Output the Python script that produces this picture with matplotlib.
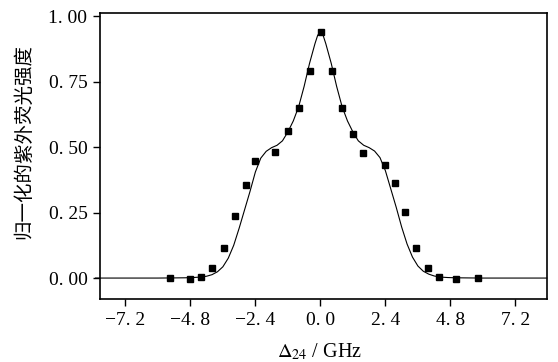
import matplotlib
matplotlib.use('Agg')
import matplotlib.pyplot as plt

# data
# fitted curve (normalized UV fluorescence vs detuning)
curve_x = [-8.3, -6.0, -5.0, -4.7, -4.4, -4.2, -4.0, -3.8, -3.6, -3.4, -3.2, -3.0,
           -2.8, -2.6, -2.4, -2.2, -2.0, -1.8, -1.6, -1.4, -1.2, -1.0, -0.8, -0.6,
           -0.4, -0.2, -0.1, 0.0, 0.1, 0.2, 0.4, 0.6, 0.8, 1.0, 1.2, 1.4, 1.6, 1.8,
           2.0, 2.2, 2.4, 2.6, 2.8, 3.0, 3.2, 3.4, 3.6, 3.8, 4.0, 4.2, 4.4, 4.7,
           5.0, 6.0, 8.36]
curve_y = [0.0, 0.0, 0.001, 0.002, 0.004, 0.007, 0.013, 0.024, 0.043, 0.076, 0.125, 0.19,
           0.26, 0.33, 0.405, 0.458, 0.484, 0.498, 0.507, 0.524, 0.558, 0.60, 0.655, 0.732,
           0.82, 0.895, 0.927, 0.94, 0.927, 0.895, 0.82, 0.732, 0.655, 0.60, 0.558, 0.524, 0.507, 0.498,
           0.485, 0.46, 0.41, 0.34, 0.27, 0.195, 0.13, 0.08, 0.046, 0.026, 0.015, 0.008, 0.004, 0.002,
           0.001, 0.0, 0.0]

# measured points
meas_x = [-5.55, -4.81, -4.41, -4.01, -3.55, -3.15, -2.76, -2.43, -1.66, -1.18, -0.79, -0.39,
          0.02, 0.43, 0.81, 1.20, 1.59, 2.37, 2.76, 3.14, 3.53, 3.97, 4.37, 5.00, 5.83]
meas_y = [0.0, -0.004, 0.005, 0.039, 0.116, 0.236, 0.357, 0.446, 0.483, 0.560, 0.651, 0.792,
          0.938, 0.792, 0.651, 0.551, 0.478, 0.431, 0.362, 0.254, 0.116, 0.037, 0.005, -0.004, -0.001]

x_ticks = [-7.2, -4.8, -2.4, 0.0, 2.4, 4.8, 7.2]
x_tick_labels = ['\u22127. 2', '\u22124. 8', '\u22122. 4', '0. 0', '2. 4', '4. 8', '7. 2']
y_ticks = [0.0, 0.25, 0.5, 0.75, 1.0]
y_tick_labels = ['0. 00', '0. 25', '0. 50', '0. 75', '1. 00']

plt.rcParams['font.family'] = ['Liberation Serif', 'DejaVu Serif']
plt.rcParams['mathtext.fontset'] = 'stix'

fig, ax = plt.subplots(figsize=(5.58, 3.62), dpi=100)
fig.subplots_adjust(left=0.179, right=0.980, bottom=0.174, top=0.964)

ax.plot(curve_x, curve_y, color='black', lw=0.8, clip_on=False)
ax.plot(meas_x, meas_y, 's', color='black', ms=4.6, ls='none')

ax.set_xlim(-8.14, 8.36)
ax.set_ylim(-0.08, 1.012)

ax.set_xticks(x_ticks)
ax.set_xticklabels(x_tick_labels)
ax.set_yticks(y_ticks)
ax.set_yticklabels(y_tick_labels)
ax.tick_params(direction='out', length=5, width=1.0, labelsize=14, pad=4,
               top=False, right=False)

for sp in ax.spines.values():
    sp.set_linewidth(1.2)

ax.set_xlabel(r'$\mathit{\Delta}_{24}$ / GHz', fontsize=14.5)
ax.xaxis.set_label_coords(0.492, -0.148)
ax.set_ylabel('归一化的紫外荧光强度', fontsize=14,
              family=['Noto Sans CJK SC', 'DejaVu Sans'])
ax.yaxis.set_label_coords(-0.148, 0.55)

fig.savefig('out.png', dpi=100)
